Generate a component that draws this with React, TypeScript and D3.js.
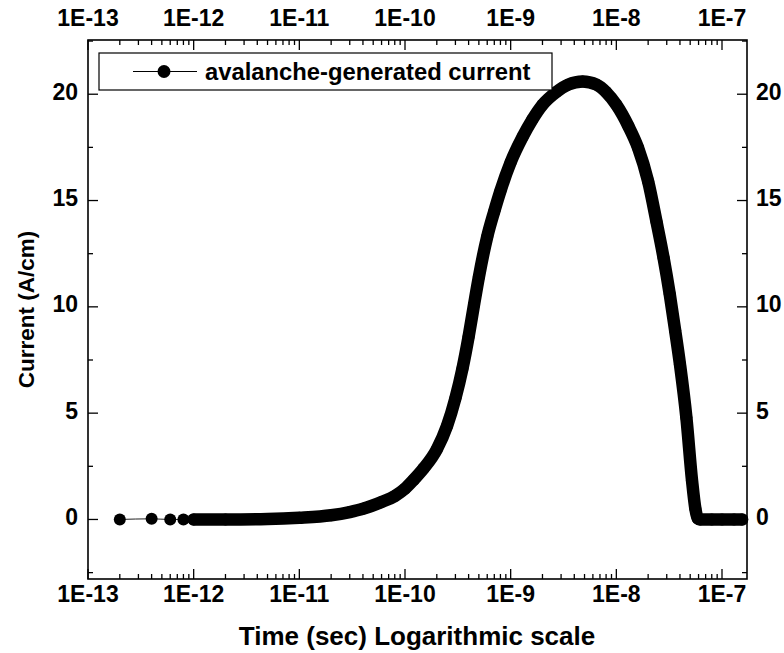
import React from "react";
import * as d3 from "d3";

const timeSec: number[] = [
  2e-13, 4e-13, 6e-13, 8e-13, 1e-12, 2e-12, 5e-12, 1e-11, 2e-11, 3e-11, 4e-11, 6e-11, 8e-11,
  1e-10, 1.2e-10, 1.5e-10, 2e-10, 2.5e-10, 3e-10, 3.5e-10, 4e-10, 4.5e-10, 5e-10, 6e-10, 7e-10, 8e-10,
  1e-9, 1.3e-9, 1.6e-9, 2e-9, 2.7e-9, 3.5e-9, 4.8e-9, 6.5e-9, 8e-9,
  1e-8, 1.3e-8, 1.6e-8, 2e-8, 2.4e-8, 2.8e-8, 3.2e-8, 3.6e-8, 4e-8, 4.6e-8, 5.2e-8, 5.6e-8, 5.9e-8, 6.2e-8, 8e-8,
  1e-7, 1.3e-7, 1.55e-7,
];
const currentAcm: number[] = [
  0, 0.03, 0, 0, 0, 0, 0.02, 0.08, 0.2, 0.35, 0.5, 0.82, 1.1,
  1.45, 1.85, 2.4, 3.3, 4.4, 5.7, 7.1, 8.6, 10.1, 11.4, 13.3, 14.5, 15.45,
  16.8, 18.0, 18.8, 19.5, 20.1, 20.45, 20.6, 20.45, 20.1,
  19.5, 18.5, 17.5, 15.9, 14.0, 12.3, 10.6, 8.9, 7.3, 4.8, 1.85, 0.5, 0.05, 0, 0,
  0, 0, 0,
];
const xTickLabels: string[] = ["1E-13", "1E-12", "1E-11", "1E-10", "1E-9", "1E-8", "1E-7"];
const xTickValues: number[] = [1e-13, 1e-12, 1e-11, 1e-10, 1e-9, 1e-8, 1e-7];
const yTickValues: number[] = [0, 5, 10, 15, 20];
const seriesName = "avalanche-generated current";
const xTitle = "Time (sec) Logarithmic scale";
const yTitle = "Current (A/cm)";

const W = 784;
const H = 653;
const L = 88, R = 747, T = 40, B = 579;
const FONT = "'Liberation Sans', Arial, sans-serif";

export default function App() {
  const x = d3.scaleLog().domain([1e-13, 10 ** (-7 + 25 / 105.67)]).range([L, R]);
  const y = d3.scaleLinear().domain([-2.8, 22.55]).range([B, T]);

  const data = timeSec.map((t, i) => ({ t, v: currentAcm[i] }));
  const denseStart = 4; // from 1E-12 on the markers overlap into a thick band
  const line = d3
    .line<{ t: number; v: number }>()
    .x((d) => x(d.t))
    .y((d) => y(d.v))
    .curve(d3.curveMonotoneX);

  const minorX: number[] = [];
  for (let e = -13; e <= -7; e++) {
    for (let m = 2; m <= 9; m++) {
      const v = m * 10 ** e;
      if (v < x.domain()[1]) minorX.push(v);
    }
  }
  const minorY: number[] = [];
  for (let v = -2.5; v <= 22.55; v += 5) minorY.push(v);

  const tickStyle = { stroke: "#000", strokeWidth: 1.3 };
  const base: React.CSSProperties = { fontFamily: FONT, fontWeight: 700, fill: "#000" };
  const tickLab: React.CSSProperties = { ...base, fontSize: 23 };

  return (
    <svg width={W} height={H} style={{ position: "absolute", left: 0, top: 0, background: "#fff" }}>
      <rect x={0} y={0} width={W} height={H} fill="#fff" />
      {xTickValues.map((v, i) => (
        <g key={"xt" + i}>
          <line x1={x(v)} x2={x(v)} y1={B} y2={B - 10} {...tickStyle} />
          <line x1={x(v)} x2={x(v)} y1={T} y2={T + 10} {...tickStyle} />
          <text x={x(v)} y={601.5} textAnchor="middle" style={tickLab}>
            {xTickLabels[i]}
          </text>
          <text x={x(v)} y={25.5} textAnchor="middle" style={tickLab}>
            {xTickLabels[i]}
          </text>
        </g>
      ))}
      {minorX.map((v, i) => (
        <g key={"xm" + i}>
          <line x1={x(v)} x2={x(v)} y1={B} y2={B - 5} {...tickStyle} />
          <line x1={x(v)} x2={x(v)} y1={T} y2={T + 5} {...tickStyle} />
        </g>
      ))}
      {yTickValues.map((v, i) => (
        <g key={"yt" + i}>
          <line x1={L} x2={L + 10} y1={y(v)} y2={y(v)} {...tickStyle} />
          <line x1={R} x2={R - 10} y1={y(v)} y2={y(v)} {...tickStyle} />
          <text x={78} y={y(v) + 5.5} textAnchor="end" style={tickLab}>
            {v}
          </text>
          <text x={756} y={y(v) + 5.5} textAnchor="start" style={tickLab}>
            {v}
          </text>
        </g>
      ))}
      {minorY.map((v, i) => (
        <g key={"ym" + i}>
          <line x1={L} x2={L + 5} y1={y(v)} y2={y(v)} {...tickStyle} />
          <line x1={R} x2={R - 5} y1={y(v)} y2={y(v)} {...tickStyle} />
        </g>
      ))}
      <rect x={L} y={T} width={R - L} height={B - T} fill="none" stroke="#000" strokeWidth={1.6} />

      <path d={line(data) ?? ""} fill="none" stroke="#222" strokeWidth={1} />
      <path
        d={line(data.slice(denseStart)) ?? ""}
        fill="none"
        stroke="#000"
        strokeWidth={12.5}
        strokeLinejoin="round"
        strokeLinecap="round"
      />
      {data.map((d, i) => (
        <circle key={"p" + i} cx={x(d.t)} cy={y(d.v)} r={6} fill="#000" />
      ))}

      <rect x={99} y={53} width={453} height={37} fill="#fff" stroke="#000" strokeWidth={1.2} />
      <line x1={133} x2={197} y1={71.5} y2={71.5} stroke="#000" strokeWidth={1.2} />
      <circle cx={164} cy={71.5} r={6.5} fill="#000" />
      <text x={205} y={80} style={{ ...base, fontSize: 23.8 }}>
        {seriesName}
      </text>

      <text x={417} y={645} textAnchor="middle" style={{ ...base, fontSize: 26 }}>
        {xTitle}
      </text>
      <text
        transform={`translate(33.5,${(T + B) / 2}) rotate(-90)`}
        textAnchor="middle"
        style={{ ...base, fontSize: 22.5 }}
      >
        {yTitle}
      </text>
    </svg>
  );
}
